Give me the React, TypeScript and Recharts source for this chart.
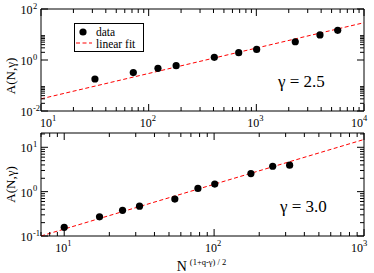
import React from "react";
import { ScatterChart, Scatter, XAxis, YAxis, ReferenceArea, Legend } from "recharts";

const FONT = "Liberation Serif, Tinos, Times New Roman, DejaVu Serif, serif";

// upper panel, gamma = 2.5
const topN = [31.7, 72, 122, 180, 407, 686, 1007, 2300, 3900, 5700];
const topA = [0.18, 0.32, 0.47, 0.6, 1.27, 1.94, 2.6, 5.2, 9.6, 14.6];
const topFitN = [10, 10000];
const topFitA = [0.03, 29];

// lower panel, gamma = 3.0
const botN = [10, 17.2, 24.5, 31.8, 54.7, 78, 101, 176, 246, 319];
const botA = [0.157, 0.27, 0.38, 0.47, 0.68, 1.18, 1.48, 2.56, 3.74, 3.95];
const botFitN = [7, 1000];
const botFitA = [0.1, 15];

const topXTicks = [
  10, 20, 30, 40, 50, 60, 70, 80, 90,
  100, 200, 300, 400, 500, 600, 700, 800, 900,
  1000, 2000, 3000, 4000, 5000, 6000, 7000, 8000, 9000, 10000,
];
const topXMajor = [10, 100, 1000, 10000];
const topYTicks = [
  0.01, 0.02, 0.03, 0.04, 0.05, 0.06, 0.07, 0.08, 0.09,
  1, 2, 3, 4, 5, 6, 7, 8, 9, 100,
];
const topYMajor = [0.01, 1, 100];

const botXTicks = [
  7, 8, 9, 10, 20, 30, 40, 50, 60, 70, 80, 90,
  100, 200, 300, 400, 500, 600, 700, 800, 900, 1000,
];
const botXMajor = [10, 100, 1000];
const botYTicks = [
  0.1, 0.2, 0.3, 0.4, 0.5, 0.6, 0.7, 0.8, 0.9,
  1, 2, 3, 4, 5, 6, 7, 8, 9, 10, 20,
];
const botYMajor = [0.1, 1, 10];

const zip = (xs: number[], ys: number[]) => xs.map((x, i) => ({ x, y: ys[i] }));

const isMajor = (v: number, majors: number[]) => majors.some((m) => Math.abs(m - v) < m * 1e-6);

const serif = { fontFamily: FONT };

const makeXTick = (majors: number[], plotH: number) => (props: any) => {
  const { x, y, payload } = props;
  const v = payload.value;
  const major = isMajor(v, majors);
  const len = major ? 7 : 4;
  const e = Math.round(Math.log10(v));
  let start = x - 9;
  if (start < 40) start = 40;
  if (start + 18 > 369) start = 351;
  return (
    <g>
      <line x1={x} x2={x} y1={y} y2={y - len} stroke="#000" />
      <line x1={x} x2={x} y1={y - plotH} y2={y - plotH + len} stroke="#000" />
      {major && (
        <text x={start} y={y + 16} style={serif} fontSize={12} fill="#000">
          10
          <tspan dy={-6} fontSize={8.5}>{e}</tspan>
        </text>
      )}
    </g>
  );
};

const makeYTick = (majors: number[], plotW: number) => (props: any) => {
  const { x, y, payload } = props;
  const v = payload.value;
  const major = isMajor(v, majors);
  const len = major ? 7 : 4;
  const e = Math.round(Math.log10(v));
  return (
    <g>
      <line x1={x} x2={x + len} y1={y} y2={y} stroke="#000" />
      <line x1={x + plotW} x2={x + plotW - len} y1={y} y2={y} stroke="#000" />
      {major && (
        <g fill="#000">
          <text x={x - 8.5} y={y + 5} textAnchor="end" style={serif} fontSize={12}>10</text>
          <text x={x - 8} y={y - 0.5} style={serif} fontSize={8.5}>{e}</text>
        </g>
      )}
    </g>
  );
};

const yTitle = (cy: number) => () => (
  <text
    transform={`translate(14.5, ${cy}) rotate(-90)`}
    textAnchor="middle"
    style={serif}
    fontSize={13}
    fill="#000"
  >
    A(N,γ)
  </text>
);

const xTitle = () => (
  <text x={201.5} y={147} textAnchor="middle" style={serif} fill="#000">
    <tspan fontSize={14}>N</tspan>
    <tspan fontSize={8.5} dx={3} dy={-6}>(1+q-γ) / 2</tspan>
  </text>
);

const Dot = (p: any) => <circle cx={p.cx} cy={p.cy} r={3.6} fill="#000" />;
const NoDot = () => <g />;

const fitLine = { stroke: "#ff0000", strokeWidth: 1, strokeDasharray: "4 2.5" };

const LegendBox = () => (
  <div style={{ border: "1px solid #000", width: 68, height: 27, background: "#fff", position: "relative" }}>
    <svg width={68} height={27} style={{ position: "absolute", left: 0, top: 0 }}>
      <circle cx={8} cy={8} r={3.6} fill="#000" />
      <text x={21} y={12} style={serif} fontSize={11.5} fill="#000">data</text>
      <line x1={1} x2={17} y1={19} y2={19} stroke="#ff0000" strokeDasharray="4 2.5" />
      <text x={21} y={23.5} style={serif} fontSize={11.5} fill="#000">linear fit</text>
    </svg>
  </div>
);

export default function App() {
  return (
    <div style={{ position: "absolute", left: 0, top: 0, width: 374, height: 273, background: "#fff", fontFamily: FONT }}>
      <div style={{ position: "absolute", left: 0, top: 0 }}>
        <ScatterChart width={374} height={130} margin={{ top: 9, right: 10, bottom: 0, left: 0 }}>
          <XAxis
            type="number"
            dataKey="x"
            scale="log"
            domain={[10, 10000]}
            allowDataOverflow
            ticks={topXTicks}
            interval={0}
            height={19}
            axisLine={false}
            tickLine={false}
            tickSize={0}
            tickMargin={0}
            tick={makeXTick(topXMajor, 102)}
          />
          <YAxis
            type="number"
            dataKey="y"
            scale="log"
            domain={[0.01, 100]}
            allowDataOverflow
            ticks={topYTicks}
            interval={0}
            width={41}
            axisLine={false}
            tickLine={false}
            tickSize={0}
            tickMargin={0}
            tick={makeYTick(topYMajor, 323)}
            label={yTitle(76)}
          />
          <ReferenceArea x1={10} x2={10000} y1={0.01} y2={100} fill="none" stroke="#000" strokeWidth={1} />
          <Scatter data={zip(topFitN, topFitA)} line={fitLine} shape={NoDot} legendType="none" isAnimationActive={false} />
          <Scatter data={zip(topN, topA)} shape={Dot} isAnimationActive={false} />
          <Legend
            layout="vertical"
            align="center"
            verticalAlign="middle"
            content={() => <LegendBox />}
            wrapperStyle={{ left: 74, top: 23, width: 70, height: 29 }}
          />
        </ScatterChart>
      </div>
      <div style={{ position: "absolute", left: 0, top: 124 }}>
        <ScatterChart width={374} height={149} margin={{ top: 9, right: 10, bottom: 0, left: 0 }}>
          <XAxis
            type="number"
            dataKey="x"
            scale="log"
            domain={[7, 1000]}
            allowDataOverflow
            ticks={botXTicks}
            interval={0}
            height={37}
            axisLine={false}
            tickLine={false}
            tickSize={0}
            tickMargin={0}
            tick={makeXTick(botXMajor, 103)}
            label={xTitle}
          />
          <YAxis
            type="number"
            dataKey="y"
            scale="log"
            domain={[0.1, 21]}
            allowDataOverflow
            ticks={botYTicks}
            interval={0}
            width={41}
            axisLine={false}
            tickLine={false}
            tickSize={0}
            tickMargin={0}
            tick={makeYTick(botYMajor, 323)}
            label={yTitle(184.5 - 124)}
          />
          <ReferenceArea x1={7} x2={1000} y1={0.1} y2={21} fill="none" stroke="#000" strokeWidth={1} />
          <Scatter data={zip(botFitN, botFitA)} line={fitLine} shape={NoDot} legendType="none" isAnimationActive={false} />
          <Scatter data={zip(botN, botA)} shape={Dot} isAnimationActive={false} />
        </ScatterChart>
      </div>
      <svg width={374} height={273} style={{ position: "absolute", left: 0, top: 0, pointerEvents: "none" }}>
        <text x={278} y={87} style={serif} fontSize={17} fill="#000">γ = 2.5</text>
        <text x={280} y={212} style={serif} fontSize={17} fill="#000">γ = 3.0</text>
      </svg>
    </div>
  );
}
